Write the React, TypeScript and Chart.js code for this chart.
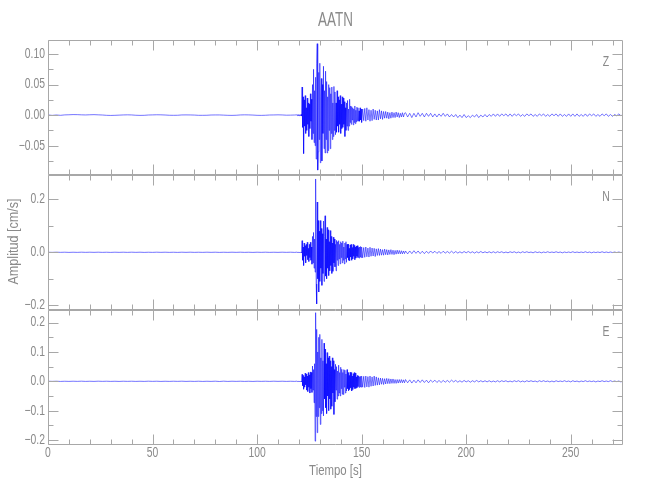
import { useEffect, useRef } from 'react';
import { Chart, registerables } from 'chart.js';

Chart.register(...registerables);

// ---------- texts ----------
const STATION = 'AATN';
const X_TITLE = 'Tiempo [s]';
const Y_TITLE = 'Amplitud [cm/s]';
const CHANNELS = ['Z', 'N', 'E'];

// ---------- axes ----------
const X_MIN = 0;
const X_MAX = 275;
const X_MAJOR = [0, 50, 100, 150, 200, 250];
const X_MINOR = [10, 20, 30, 40, 60, 70, 80, 90, 110, 120, 130, 140, 160, 170, 180, 190, 210, 220, 230, 240, 260, 270];

const Z_MIN = -0.098;
const Z_MAX = 0.123;
const Z_MAJOR = [-0.05, 0, 0.05, 0.1];
const Z_MINOR = [-0.075, -0.025, 0.025, 0.075];

const N_MIN = -0.218;
const N_MAX = 0.292;
const N_MAJOR = [-0.2, 0, 0.2];
const N_MINOR = [-0.1, 0.1];

const E_MIN = -0.217;
const E_MAX = 0.243;
const E_MAJOR = [-0.2, -0.1, 0, 0.1, 0.2];
const E_MINOR = [-0.15, -0.05, 0.05, 0.15];

// ---------- sampling of the traces (seconds) ----------
const PRE_START = 0;
const PRE_STEP = 2;
const B1_START = 119;
const B1_STEP = 0.25;
const B2_START = 150;
const B2_STEP = 0.5;
const CODA_START = 171;
const CODA_STEP = 1;

// ---------- Z component [cm/s] ----------
const Z_PRE = [
  0.0003, -0.0004, 0.0002, -0.0003, 0.0004, 0.0006, 0.0009, 0.0008, 0.0005, 0.0003,
  0.0006, 0.0008, 0.0005, 0.0002, -0.0003, -0.0005, -0.0003, 0.0, 0.0003, 0.0005,
  0.0003, -0.0002, -0.0004, -0.0003, 0.0002, 0.0004, 0.0006, 0.0005, 0.0002, -0.0002,
  -0.0003, -0.0002, 0.0003, 0.0004, 0.0003, 0.0001, -0.0003, -0.0003, -0.0002, 0.0002,
  0.0003, 0.0003, 0.0, -0.0003, -0.0004, -0.0002, 0.0003, 0.0005, 0.0004, 0.0001,
  -0.0003, -0.0004, -0.0002, 0.0002, 0.0003, 0.0005, 0.0003, -0.0001, 0.0, 0.0002,
];
const Z_B1 = [
  0.0005, -0.0008, 0.001, -0.0006, 0.0008, -0.001, 0.0006, -0.0008,
  0.0012, -0.0015, 0.046, -0.02, 0.03, -0.063, 0.025, -0.018,
  0.032, -0.03, 0.012, -0.025, 0.028, -0.015, 0.02, -0.035,
  0.018, -0.022, 0.035, -0.01, 0.026, -0.04, 0.05, -0.03,
  0.075, -0.045, 0.04, -0.05, 0.062, -0.072, 0.085, 0.117,
  -0.09, -0.06, 0.07, -0.04, 0.085, -0.078, 0.03, 0.06,
  -0.075, 0.05, -0.03, 0.08, -0.055, 0.04, -0.062, 0.072,
  -0.04, 0.055, -0.062, 0.03, -0.058, 0.05, -0.025, 0.045,
  -0.055, 0.035, -0.03, 0.046, -0.04, 0.02, -0.035, 0.047,
  -0.025, 0.038, -0.032, 0.02, -0.028, 0.04, -0.018, 0.03,
  -0.028, 0.025, -0.015, 0.032, -0.03, 0.018, -0.022, 0.03,
  -0.02, 0.028, -0.015, 0.022, -0.035, 0.012, -0.025, 0.02,
  -0.018, 0.024, -0.025, 0.01, -0.018, 0.026, -0.012, 0.015,
  -0.015, 0.014, -0.008, 0.012, -0.016, 0.01, -0.012, 0.015,
  -0.014, 0.008, -0.011, 0.013, -0.009, 0.012, -0.01, 0.007,
  -0.01, 0.012, -0.008, 0.01,
];
const Z_B2 = [
  -0.012, 0.01, -0.009, 0.011, -0.01, 0.012, -0.008, 0.009, -0.01, 0.008,
  -0.009, 0.01, -0.007, 0.008, -0.008, 0.007, -0.008, 0.009, -0.006, 0.007,
  -0.007, 0.006, -0.005, 0.006, -0.005, 0.005, -0.006, 0.004, -0.005, 0.005,
  -0.004, 0.004, -0.004, 0.005, -0.003, 0.004, -0.004, 0.003, -0.003, 0.004,
  -0.003, 0.003,
];
const Z_CODA = [
  0.004, -0.003, 0.003, -0.004, 0.003, -0.003, 0.004, -0.002, 0.003, -0.003,
  0.003, -0.002, 0.003, -0.003, 0.002, -0.003, 0.002, -0.002, 0.003, -0.002,
  0.002, -0.003, 0.001, -0.003, 0.001, -0.004, 0.0, -0.004, 0.001, -0.004,
  -0.001, -0.004, 0.0, -0.003, 0.001, -0.004, 0.0, -0.003, 0.001, -0.003,
  0.001, -0.002, 0.002, -0.002, 0.002, -0.002, 0.002, -0.001, 0.002, -0.002,
  0.002, -0.002, 0.002, -0.001, 0.002, -0.002, 0.001, -0.002, 0.002, -0.001,
  0.002, -0.002, 0.001, -0.002, 0.002, -0.001, 0.002, -0.002, 0.001, -0.002,
  0.002, -0.001, 0.002, -0.002, 0.002, -0.002, 0.001, -0.002, 0.002, -0.002,
  0.002, -0.002, 0.002, -0.002, 0.001, -0.002, 0.002, -0.002, 0.002, -0.001,
  0.002, -0.002, 0.001, -0.002, 0.002, -0.001, 0.002, -0.002, 0.001, -0.002,
  0.001, -0.001, 0.002, -0.001, 0.001,
];

// ---------- N component [cm/s] ----------
const N_PRE = [
  0.0002, -0.0003, 0.0004, -0.0002, 0.0003, -0.0004, 0.0002, -0.0003, 0.0004, -0.0002,
  0.0003, -0.0002, 0.0004, -0.0003, 0.0002, -0.0004, 0.0003, -0.0002, 0.0003, -0.0003,
  0.0004, -0.0002, 0.0003, -0.0004, 0.0002, -0.0003, 0.0004, -0.0002, 0.0003, -0.0003,
  0.0002, -0.0004, 0.0003, -0.0002, 0.0004, -0.0003, 0.0002, -0.0003, 0.0004, -0.0002,
  0.0003, -0.0004, 0.0002, -0.0003, 0.0003, -0.0002, 0.0004, -0.0003, 0.0002, -0.0004,
  0.0003, -0.0002, 0.0004, -0.0003, 0.0002, -0.0003, 0.0004, -0.0002, 0.0003, -0.0004,
];
const N_B1 = [
  0.0004, -0.0005, 0.0006, -0.0004, 0.0005, -0.0006, 0.0004, -0.0005,
  0.001, -0.0012, 0.044, -0.03, 0.02, -0.05, 0.035, -0.015,
  0.025, -0.04, 0.03, -0.012, 0.038, -0.028, 0.015, -0.035,
  0.03, -0.02, 0.038, -0.03, 0.02, -0.045, 0.06, -0.04,
  0.075, -0.06, 0.05, -0.075, 0.277, -0.12, -0.195, 0.19,
  -0.1, 0.12, -0.15, 0.08, -0.11, 0.12, -0.06, 0.09,
  -0.125, 0.07, -0.08, 0.118, -0.11, 0.06, 0.138, -0.09,
  0.05, -0.1, 0.094, -0.06, 0.085, -0.088, 0.04, -0.07,
  0.082, -0.05, 0.06, -0.08, 0.035, -0.072, 0.057, -0.04,
  0.05, -0.055, 0.03, -0.07, 0.045, -0.03, 0.04, -0.05,
  0.044, -0.025, 0.03, -0.044, 0.04, -0.02, 0.035, -0.04,
  0.042, -0.03, 0.02, -0.044, 0.035, -0.025, 0.04, -0.038,
  0.03, -0.02, 0.031, -0.03, 0.015, -0.032, 0.028, -0.018,
  0.03, -0.03, 0.018, -0.025, 0.03, -0.015, 0.026, -0.028,
  0.02, -0.022, 0.024, -0.015, 0.025, -0.02, 0.018, -0.022,
  0.02, -0.018, 0.022, -0.02,
];
const N_B2 = [
  0.02, -0.021, 0.018, -0.019, 0.02, -0.017, 0.016, -0.018, 0.019, -0.015,
  0.016, -0.014, 0.015, -0.016, 0.013, -0.012, 0.014, -0.012, 0.012, -0.011,
  0.01, -0.011, 0.012, -0.009, 0.01, -0.01, 0.009, -0.008, 0.01, -0.008,
  0.008, -0.009, 0.007, -0.007, 0.008, -0.006, 0.007, -0.006, 0.006, -0.006,
  0.005, -0.005,
];
const N_CODA = [
  0.005, -0.006, 0.005, -0.005, 0.006, -0.004, 0.005, -0.005, 0.004, -0.005,
  0.004, -0.004, 0.005, -0.003, 0.004, -0.004, 0.003, -0.004, 0.004, -0.003,
  0.003, -0.003, 0.004, -0.003, 0.003, -0.003, 0.002, -0.003, 0.003, -0.002,
  0.003, -0.002, 0.002, -0.003, 0.002, -0.002, 0.003, -0.002, 0.002, -0.002,
  0.002, -0.002, 0.002, -0.002, 0.002, -0.001, 0.002, -0.002, 0.001, -0.002,
  0.002, -0.001, 0.002, -0.002, 0.001, -0.002, 0.002, -0.001, 0.002, -0.001,
  0.001, -0.002, 0.002, -0.001, 0.001, -0.002, 0.001, -0.001, 0.002, -0.001,
  0.001, -0.001, 0.002, -0.001, 0.001, -0.002, 0.001, -0.001, 0.001, -0.001,
  0.002, -0.001, 0.001, -0.001, 0.001, -0.001, 0.002, -0.001, 0.001, -0.002,
  0.001, -0.001, 0.001, -0.001, 0.002, -0.001, 0.001, -0.001, 0.001, -0.001,
  0.001, -0.001, 0.001, -0.001, 0.001,
];

// ---------- E component [cm/s] ----------
const E_PRE = [
  0.0003, -0.0002, 0.0003, -0.0004, 0.0002, -0.0003, 0.0003, -0.0002, 0.0004, -0.0003,
  0.0002, -0.0003, 0.0004, -0.0002, 0.0003, -0.0003, 0.0002, -0.0004, 0.0003, -0.0002,
  0.0003, -0.0003, 0.0002, -0.0003, 0.0004, -0.0002, 0.0003, -0.0004, 0.0002, -0.0003,
  0.0003, -0.0002, 0.0004, -0.0003, 0.0002, -0.0003, 0.0003, -0.0004, 0.0002, -0.0003,
  0.0004, -0.0006, 0.0005, -0.0004, 0.0003, -0.0002, 0.0003, -0.0003, 0.0002, -0.0004,
  0.0003, -0.0002, 0.0003, -0.0003, 0.0004, -0.0002, 0.0003, -0.0003, 0.0002, -0.0003,
];
const E_B1 = [
  0.0004, -0.0006, 0.0005, -0.0004, 0.0006, -0.0005, 0.0004, -0.0006,
  0.001, -0.0012, 0.024, -0.015, 0.02, -0.027, 0.015, -0.02,
  0.028, -0.012, 0.025, -0.03, 0.018, -0.035, 0.03, -0.02,
  0.022, -0.04, 0.032, -0.025, 0.03, -0.038, 0.052, -0.03,
  0.04, -0.073, 0.06, -0.204, 0.234, -0.12, 0.177, -0.175,
  0.1, -0.12, 0.15, -0.09, 0.16, -0.147, 0.08, -0.11,
  0.143, -0.1, 0.07, -0.118, 0.13, -0.06, 0.11, -0.09,
  0.06, -0.11, 0.098, -0.05, 0.08, -0.1, 0.086, -0.06,
  0.07, -0.095, 0.05, -0.085, 0.08, -0.04, 0.07, -0.113,
  0.04, -0.07, 0.058, -0.03, 0.05, -0.061, 0.035, -0.05,
  0.055, -0.04, 0.03, -0.05, 0.048, -0.025, 0.041, -0.044,
  0.03, -0.045, 0.04, -0.02, 0.038, -0.04, 0.025, -0.033,
  0.04, -0.025, 0.03, -0.032, 0.02, -0.028, 0.031, -0.022,
  0.03, -0.033, 0.018, -0.028, 0.026, -0.02, 0.03, -0.025,
  0.028, -0.024, 0.015, -0.022, 0.02, -0.018, 0.018, -0.021,
  0.016, -0.019, 0.017, -0.02,
];
const E_B2 = [
  0.018, -0.02, 0.017, -0.021, 0.018, -0.019, 0.016, -0.02, 0.018, -0.017,
  0.015, -0.016, 0.018, -0.014, 0.015, -0.013, 0.012, -0.012, 0.011, -0.01,
  0.01, -0.011, 0.009, -0.009, 0.01, -0.008, 0.009, -0.008, 0.008, -0.007,
  0.008, -0.007, 0.006, -0.007, 0.006, -0.006, 0.006, -0.005, 0.006, -0.005,
  0.005, -0.005,
];
const E_CODA = [
  0.006, -0.005, 0.005, -0.006, 0.004, -0.005, 0.005, -0.004, 0.005, -0.004,
  0.004, -0.005, 0.004, -0.003, 0.004, -0.004, 0.003, -0.004, 0.003, -0.003,
  0.003, -0.003, 0.004, -0.002, 0.003, -0.003, 0.002, -0.003, 0.003, -0.002,
  0.002, -0.003, 0.002, -0.002, 0.003, -0.002, 0.002, -0.002, 0.002, -0.002,
  0.002, -0.002, 0.001, -0.002, 0.002, -0.002, 0.002, -0.001, 0.002, -0.002,
  0.001, -0.002, 0.002, -0.001, 0.002, -0.002, 0.001, -0.002, 0.002, -0.001,
  0.002, -0.001, 0.001, -0.002, 0.002, -0.001, 0.002, -0.001, 0.001, -0.002,
  0.001, -0.002, 0.002, -0.001, 0.001, -0.001, 0.002, -0.001, 0.001, -0.002,
  0.002, -0.001, 0.001, -0.002, 0.001, -0.001, 0.002, -0.001, 0.001, -0.001,
  0.001, -0.002, 0.001, -0.001, 0.002, -0.001, 0.001, -0.001, 0.002, -0.001,
  0.001, -0.001, 0.001, -0.002, 0.001,
];

// ---------- styling ----------
const FONT = "'Liberation Sans', Arial, 'DejaVu Sans', sans-serif";
const TEXT_COLOR = '#8a8a8a';
const FRAME_COLOR = '#a8a8a8';
const TRACE_COLOR = '#0000ff';

type Pt = { x: number; y: number };

function buildTrace(pre: number[], b1: number[], b2: number[], coda: number[]): Pt[] {
  const pts: Pt[] = [];
  pre.forEach((v, i) => pts.push({ x: PRE_START + i * PRE_STEP, y: v }));
  b1.forEach((v, i) => pts.push({ x: B1_START + i * B1_STEP, y: v }));
  b2.forEach((v, i) => pts.push({ x: B2_START + i * B2_STEP, y: v }));
  coda.forEach((v, i) => pts.push({ x: CODA_START + i * CODA_STEP, y: v }));
  return pts;
}

const PANELS = [
  { id: 'yZ', name: CHANNELS[0], min: Z_MIN, max: Z_MAX, major: Z_MAJOR, minor: Z_MINOR, digits: 2, data: () => buildTrace(Z_PRE, Z_B1, Z_B2, Z_CODA) },
  { id: 'yN', name: CHANNELS[1], min: N_MIN, max: N_MAX, major: N_MAJOR, minor: N_MINOR, digits: 1, data: () => buildTrace(N_PRE, N_B1, N_B2, N_CODA) },
  { id: 'yE', name: CHANNELS[2], min: E_MIN, max: E_MAX, major: E_MAJOR, minor: E_MINOR, digits: 1, data: () => buildTrace(E_PRE, E_B1, E_B2, E_CODA) },
];

const fmt = (v: number, d: number) => {
  const s = Math.abs(v) < 1e-9 ? (0).toFixed(d) : v.toFixed(d);
  return s.replace('-', '\u2212');
};

// condensed text, like the plotting package's stroke font
function drawText(
  ctx: CanvasRenderingContext2D,
  text: string,
  x: number,
  y: number,
  size: number,
  align: CanvasTextAlign,
  sx: number,
  rot = 0,
) {
  ctx.save();
  ctx.translate(x, y);
  if (rot) ctx.rotate(rot);
  ctx.scale(sx, 1);
  ctx.font = `${size}px ${FONT}`;
  ctx.textAlign = align;
  ctx.textBaseline = 'middle';
  ctx.fillStyle = TEXT_COLOR;
  ctx.fillText(text, 0, 0);
  ctx.restore();
}

const decorPlugin = {
  id: 'decor',
  afterDatasetsDraw(chart: any) {
    const { ctx, chartArea } = chart;
    const xs = chart.scales.x;
    const left = Math.round(chartArea.left) + 0.5;
    const right = Math.round(chartArea.right) - 0.5;
    ctx.save();
    ctx.strokeStyle = FRAME_COLOR;
    ctx.lineWidth = 1;
    PANELS.forEach((p) => {
      const ys = chart.scales[p.id];
      const top = Math.round(ys.top) + 0.5;
      const bottom = Math.round(ys.bottom) - 0.5;
      ctx.beginPath();
      ctx.rect(left, top, right - left, bottom - top);
      const xt = (v: number, len: number) => {
        const px = Math.round(xs.getPixelForValue(v)) + 0.5;
        ctx.moveTo(px, top);
        ctx.lineTo(px, top + len);
        ctx.moveTo(px, bottom);
        ctx.lineTo(px, bottom - len);
      };
      X_MAJOR.forEach((v) => xt(v, 10));
      X_MINOR.forEach((v) => xt(v, 5));
      const yt = (v: number, len: number) => {
        const py = Math.round(ys.getPixelForValue(v)) + 0.5;
        ctx.moveTo(left, py);
        ctx.lineTo(left + len, py);
        ctx.moveTo(right, py);
        ctx.lineTo(right - len, py);
      };
      p.major.forEach((v) => yt(v, 10));
      p.minor.forEach((v) => yt(v, 5));
      ctx.stroke();

      // y tick labels
      p.major.forEach((v) => {
        drawText(ctx, fmt(v, p.digits), chartArea.left - 3, ys.getPixelForValue(v), 14, 'right', 0.74);
      });
      // channel name
      drawText(ctx, p.name, chartArea.right - 17, ys.top + 22, 14, 'center', 0.75);
    });

    // x tick labels (bottom panel only)
    X_MAJOR.forEach((v) => {
      drawText(ctx, String(v), xs.getPixelForValue(v), chartArea.bottom + 8.5, 14, 'center', 0.74);
    });
    // axis titles
    const mid = chart.scales.yN;
    drawText(ctx, Y_TITLE, 14, (mid.top + mid.bottom) / 2 - 1, 15, 'center', 0.84, -Math.PI / 2);
    drawText(ctx, X_TITLE, (chartArea.left + chartArea.right) / 2, chartArea.bottom + 26, 15, 'center', 0.76);
    // station title
    drawText(ctx, STATION, (chartArea.left + chartArea.right) / 2, chartArea.top - 19.5, 21, 'center', 0.64);
    ctx.restore();
  },
};

export default function App() {
  const ref = useRef<HTMLCanvasElement | null>(null);

  useEffect(() => {
    if (!ref.current) return;

    const yScales: any = {};
    // defined bottom-to-top so that Z ends up on top of the stack
    [...PANELS].reverse().forEach((p) => {
      yScales[p.id] = {
        type: 'linear',
        position: 'left',
        stack: 'panels',
        stackWeight: 1,
        min: p.min,
        max: p.max,
        afterBuildTicks: (s: any) => {
          s.ticks = p.major.map((v) => ({ value: v }));
        },
        afterFit: (s: any) => {
          s.width = 48;
        },
        ticks: { display: false },
        grid: { display: false },
        border: { display: false },
        title: { display: false },
      };
    });

    const chart = new Chart(ref.current, {
      type: 'line',
      data: {
        datasets: PANELS.map((p) => ({
          label: p.name,
          data: p.data(),
          xAxisID: 'x',
          yAxisID: p.id,
          borderColor: TRACE_COLOR,
          borderWidth: 0.55,
          pointRadius: 0,
          tension: 0,
          fill: false,
        })),
      },
      options: {
        animation: false,
        responsive: false,
        events: [],
        parsing: false,
        normalized: true,
        layout: { padding: { top: 40, right: 27, left: 0, bottom: 0 } },
        plugins: {
          legend: { display: false },
          title: { display: false },
          tooltip: { enabled: false },
        },
        scales: {
          x: {
            type: 'linear',
            position: 'bottom',
            min: X_MIN,
            max: X_MAX,
            afterBuildTicks: (s: any) => {
              s.ticks = X_MAJOR.map((v) => ({ value: v }));
            },
            afterFit: (s: any) => {
              s.height = 55;
            },
            ticks: { display: false },
            grid: { display: false },
            border: { display: false },
            title: { display: false },
          },
          ...yScales,
        },
      },
      plugins: [decorPlugin],
    } as any);
    return () => chart.destroy();
  }, []);

  return (
    <div style={{ position: 'fixed', left: 0, top: 0, width: 650, height: 500, background: '#fff' }}>
      <canvas ref={ref} width={650} height={500} style={{ display: 'block' }} />
    </div>
  );
}
